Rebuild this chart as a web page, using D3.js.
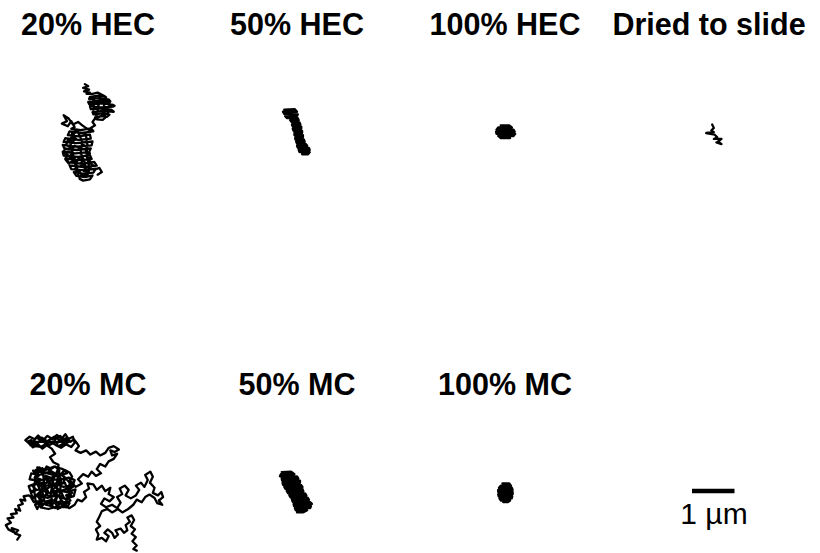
<!DOCTYPE html>
<html>
<head>
<meta charset="utf-8">
<script src="https://d3js.org/d3.v7.min.js"></script>
<style>
  body { margin: 0; background: #fff; }
  .title { font-family: "Liberation Sans", Arial, sans-serif; font-weight: bold; font-size: 30.5px; }
  .scale-label { font-family: "Liberation Sans", Arial, sans-serif; font-size: 30px; }
  .track { fill: none; stroke: #000; stroke-width: 2.3; stroke-linejoin: round; stroke-linecap: round; }
</style>
</head>
<body>
<div id="chart"></div>
<script>
// particle tracks, x/y in µm relative to the panel centre (y down)
var hec20 = [
  [0.02,-1.15],[0.10,-1.10],[-0.02,-1.06],[0.12,-1.02],[0.00,-0.98],[0.14,-0.95],[0.06,-0.92],
  [0.20,-0.92],[0.32,-0.95],[0.40,-0.91],
  [0.50,-0.86],[0.34,-0.88],[0.14,-0.85],
  [0.12,-0.80],[0.36,-0.82],[0.58,-0.79],
  [0.62,-0.74],[0.40,-0.76],[0.10,-0.73],
  [0.12,-0.68],[0.42,-0.70],[0.66,-0.67],[0.72,-0.64],
  [0.68,-0.62],[0.40,-0.60],[0.14,-0.63],
  [0.16,-0.56],[0.42,-0.58],[0.64,-0.55],
  [0.70,-0.50],[0.44,-0.52],[0.20,-0.49],
  [0.22,-0.44],[0.44,-0.46],[0.60,-0.43],
  [0.54,-0.38],[0.40,-0.40],[0.26,-0.37],
  [0.30,-0.32],[0.44,-0.31],
  [0.50,-0.36],[0.46,-0.60],[0.52,-0.84],[0.40,-0.90],[0.34,-0.64],[0.30,-0.40],[0.22,-0.52],
  [0.24,-0.78],[0.16,-0.70],[0.60,-0.72],[0.56,-0.46],[0.26,-0.34],
  [0.20,-0.26],[0.26,-0.18],[0.16,-0.12],[0.22,-0.04],[0.10,-0.08],
  [-0.04,-0.18],[-0.14,-0.26],[-0.26,-0.20],[-0.36,-0.34],[-0.48,-0.42],[-0.40,-0.28],[-0.52,-0.22],
  [-0.38,-0.16],[-0.30,-0.28],[-0.22,-0.14],
  [-0.30,-0.10],[-0.08,-0.07],[0.16,-0.11],
  [0.18,-0.03],[-0.06,0.00],[-0.34,-0.04],
  [-0.38,0.05],[-0.12,0.08],[0.14,0.04],
  [0.16,0.13],[-0.14,0.16],[-0.44,0.12],
  [-0.48,0.21],[-0.18,0.24],[0.20,0.20],
  [0.18,0.29],[-0.20,0.32],[-0.50,0.28],
  [-0.46,0.37],[-0.16,0.40],[0.16,0.36],
  [0.12,0.45],[-0.20,0.48],[-0.50,0.44],
  [-0.48,0.53],[-0.14,0.56],[0.14,0.52],
  [0.18,0.61],[-0.12,0.64],[-0.44,0.60],
  [-0.36,0.69],[-0.04,0.72],[0.24,0.68],
  [0.30,0.77],[-0.02,0.80],[-0.34,0.76],
  [-0.30,0.85],[0.00,0.88],[0.28,0.84],
  [0.22,0.93],[0.00,0.96],[-0.24,0.92],
  [-0.18,1.01],[0.02,1.04],[0.20,1.00],
  [0.14,1.09],[-0.02,1.12],[-0.10,1.08],
  [-0.14,0.96],[-0.18,0.74],[-0.26,0.50],[-0.32,0.24],[-0.28,0.00],
  [-0.16,-0.06],[-0.04,0.20],[-0.08,0.46],[0.02,0.70],[0.06,0.94],
  [0.12,0.80],[0.06,0.52],[0.08,0.28],[0.04,0.02],
  [-0.20,-0.02],[-0.28,0.08],[-0.18,0.14],[-0.30,0.22],[-0.38,0.16],[-0.42,0.28],[-0.32,0.34],
  [-0.40,0.44],[-0.28,0.46],[-0.34,0.56],[-0.22,0.60],[-0.28,0.70],[-0.16,0.66],[-0.10,0.56],
  [-0.02,0.62],[-0.08,0.74],[0.04,0.78],[0.00,0.90],[0.12,0.88],[0.08,1.00],[-0.04,1.02],
  [-0.10,0.92],[-0.22,0.86],[-0.16,0.78],[-0.26,0.66],[-0.36,0.72],[-0.44,0.62],[-0.38,0.52],
  [-0.48,0.46],[-0.44,0.36],[-0.30,0.40],[-0.22,0.30],[-0.10,0.36],[-0.02,0.28],[0.08,0.34],
  [0.04,0.44],[0.14,0.48],[0.06,0.56],[0.16,0.62],[0.10,0.70],[0.20,0.74],[0.14,0.84],
  [0.26,0.86],[0.36,0.82],[0.42,0.92],[0.32,0.98]
];
var hec50 = [
  [-0.30,-0.55],[-0.05,-0.56],
  [0.00,-0.50],[-0.33,-0.50],
  [-0.30,-0.45],[0.02,-0.44],
  [0.00,-0.40],[-0.28,-0.40],
  [-0.24,-0.35],[0.02,-0.35],
  [0.04,-0.30],[-0.16,-0.30],
  [-0.12,-0.25],[0.06,-0.25],
  [0.08,-0.20],[-0.12,-0.20],
  [-0.10,-0.15],[0.10,-0.15],
  [0.10,-0.10],[-0.10,-0.10],
  [-0.08,-0.05],[0.12,-0.05],
  [0.12,0.00],[-0.06,0.00],
  [-0.06,0.05],[0.14,0.05],
  [0.14,0.10],[-0.04,0.10],
  [-0.04,0.15],[0.16,0.15],
  [0.18,0.20],[-0.02,0.20],
  [0.00,0.25],[0.20,0.25],
  [0.24,0.30],[0.00,0.30],
  [0.02,0.35],[0.28,0.35],
  [0.30,0.40],[0.04,0.40],
  [0.06,0.45],[0.30,0.45],
  [0.26,0.50],[0.12,0.50]
];
var hec100 = [
  [-0.10,-0.18],[0.10,-0.18],
  [0.16,-0.13],[-0.16,-0.13],
  [-0.20,-0.08],[0.20,-0.08],
  [0.23,-0.03],[-0.21,-0.03],
  [-0.20,0.02],[0.24,0.02],
  [0.20,0.07],[-0.16,0.07],
  [-0.10,0.12],[0.12,0.12]
];
var dried = [
  [-0.02,-0.20],[0.02,-0.12],[-0.04,-0.06],[0.02,-0.02],[-0.16,0.00],[0.04,0.04],[0.10,0.10],
  [0.02,0.14],[0.20,0.14],[0.12,0.20],[0.20,0.26],[0.08,0.22]
];
var mc20 = [
  [-1.57,1.12],[-1.50,1.02],[-1.62,0.98],[-1.55,0.90],[-1.70,0.85],[-1.64,0.95],[-1.78,0.88],[-1.84,0.78],
  [-1.72,0.72],[-1.80,0.62],[-1.66,0.60],[-1.72,0.52],[-1.58,0.50],[-1.62,0.40],[-1.50,0.44],[-1.55,0.32],
  [-1.44,0.28],[-1.50,0.18],[-1.38,0.20],[-1.42,0.10],[-1.30,0.08],
  [-1.20,0.15],[-1.25,0.02],[-1.12,-0.05],[-1.22,-0.15],[-1.08,-0.20],[-0.98,-0.10],[-1.05,0.05],
  [-0.92,0.10],[-0.85,-0.02],[-0.95,-0.18],[-0.82,-0.25],[-0.90,-0.38],[-0.75,-0.32],[-0.70,-0.45],
  [-0.82,-0.52],[-0.68,-0.60],[-0.58,-0.50],[-0.65,-0.38],[-0.52,-0.30],[-0.60,-0.18],[-0.45,-0.22],
  [-0.40,-0.08],[-0.55,-0.02],[-0.48,0.12],[-0.62,0.08],[-0.70,0.20],[-0.58,0.28],[-0.68,0.38],
  [-0.80,0.30],[-0.75,0.18],[-0.88,0.22],[-0.98,0.32],[-1.05,0.22],[-1.15,0.30],[-1.10,0.40],
  [-1.00,0.18],[-1.12,0.08],[-1.02,-0.02],[-1.15,-0.30],[-1.05,-0.40],[-1.18,-0.48],[-1.05,-0.58],
  [-0.95,-0.48],[-0.88,-0.60],[-0.78,-0.55],[-0.86,-0.44],[-0.72,-0.40],[-0.80,-0.22],[-0.66,-0.12],
  [-0.76,-0.04],[-0.62,0.00],[-0.72,0.10],[-0.86,0.08],[-0.92,-0.04],[-0.78,-0.14],
  [-1.10,-0.58],[-0.90,-0.52],[-0.70,-0.60],[-0.50,-0.54],
  [-0.40,-0.44],[-0.62,-0.40],[-0.84,-0.46],[-1.06,-0.40],[-1.24,-0.44],
  [-1.28,-0.30],[-1.06,-0.26],[-0.84,-0.32],[-0.60,-0.28],[-0.36,-0.34],[-0.22,-0.28],
  [-0.26,-0.16],[-0.48,-0.12],[-0.70,-0.20],[-0.92,-0.14],[-1.14,-0.20],[-1.30,-0.14],
  [-1.26,-0.02],[-1.04,-0.06],[-0.82,0.02],[-0.60,-0.04],[-0.40,0.00],[-0.20,-0.06],
  [-0.24,0.10],[-0.44,0.16],[-0.66,0.08],[-0.86,0.14],[-1.08,0.08],[-1.24,0.14],
  [-1.18,0.24],[-0.96,0.20],[-0.76,0.28],[-0.54,0.22],[-0.34,0.26],
  [-0.40,0.36],[-0.62,0.34],[-0.84,0.40],[-1.02,0.36],
  [-1.14,0.20],[-1.18,-0.10],[-1.12,-0.40],[-0.98,-0.56],[-0.94,-0.24],[-0.98,0.06],[-0.90,0.30],
  [-0.74,0.34],[-0.78,0.02],[-0.72,-0.30],[-0.60,-0.56],[-0.54,-0.22],[-0.58,0.12],[-0.46,0.30],
  [-0.36,0.10],[-0.32,-0.20],[-0.50,-0.40],
  [-1.20,-0.50],[-1.10,-0.44],[-1.16,-0.34],[-1.02,-0.30],[-1.08,-0.18],[-0.96,-0.22],[-0.90,-0.10],
  [-1.00,-0.02],[-0.94,0.10],[-1.06,0.14],[-1.00,0.26],[-0.88,0.30],[-0.80,0.20],[-0.70,0.26],
  [-0.64,0.14],[-0.72,0.04],[-0.60,-0.06],[-0.70,-0.14],[-0.62,-0.26],[-0.50,-0.20],[-0.44,-0.32],
  [-0.54,-0.42],[-0.46,-0.52],[-0.34,-0.46],[-0.28,-0.36],[-0.36,-0.24],[-0.26,-0.12],[-0.38,-0.04],
  [-0.30,0.08],[-0.42,0.18],[-0.52,0.10],[-0.56,0.24],[-0.50,0.34],[-0.62,0.40],[-0.66,0.28],
  [-0.60,-0.64],
  [-0.72,-0.70],[-0.80,-0.82],[-0.68,-0.90],[-0.76,-1.02],
  [-0.88,-1.10],[-0.98,-1.02],[-1.08,-1.12],[-1.20,-1.05],[-1.30,-1.15],[-1.38,-1.22],[-1.28,-1.30],
  [-1.16,-1.24],[-1.08,-1.33],[-0.96,-1.22],[-0.86,-1.32],[-0.74,-1.24],[-0.64,-1.34],[-0.52,-1.26],
  [-0.44,-1.36],[-0.36,-1.24],[-0.48,-1.14],[-0.58,-1.22],[-0.66,-1.10],[-0.54,-1.04],[-0.42,-1.12],
  [-0.30,-1.06],[-0.22,-1.16],[-0.26,-1.30],[-0.50,-1.18],[-0.70,-1.30],[-0.92,-1.16],[-1.12,-1.28],
  [-1.26,-1.10],[-1.02,-1.06],[-0.80,-1.18],[-0.60,-1.08],[-0.36,-1.18],
  [-1.34,-1.18],[-1.24,-1.22],[-1.18,-1.12],[-1.06,-1.18],[-1.00,-1.28],[-0.90,-1.22],[-0.82,-1.10],
  [-0.72,-1.16],[-0.66,-1.26],[-0.56,-1.32],[-0.50,-1.22],[-0.40,-1.28],[-0.32,-1.18],[-0.24,-1.24],
  [-0.16,-1.14],[-0.12,-1.08],[-0.20,-0.98],
  [-0.08,-0.92],
  [0.05,-0.98],[0.15,-0.88],[0.28,-0.95],[0.38,-0.86],[0.50,-0.92],[0.58,-1.04],[0.70,-1.08],
  [0.82,-1.00],[0.72,-0.94],[0.62,-0.98],[0.66,-0.86],[0.78,-0.90],[0.70,-0.78],
  [0.58,-0.72],[0.50,-0.60],[0.38,-0.66],[0.30,-0.54],[0.40,-0.44],[0.28,-0.38],[0.18,-0.48],[0.10,-0.36],
  [-0.02,-0.42],[-0.14,-0.30],[-0.05,-0.20],[-0.20,-0.12],[-0.30,-0.25],[-0.38,-0.10],[-0.28,0.02],
  [-0.42,0.08],[-0.32,0.20],[-0.45,0.28],[-0.35,0.38],[-0.22,0.30],[-0.15,0.18],[-0.05,0.22],
  [0.05,0.12],[0.00,0.00],[0.12,-0.08],[0.08,-0.20],[0.22,-0.18],
  [0.30,-0.05],[0.42,-0.15],[0.50,-0.02],[0.62,-0.10],[0.58,0.05],[0.70,0.12],[0.60,0.22],[0.48,0.15],
  [0.40,0.28],[0.52,0.36],[0.66,0.30],[0.78,0.38],[0.86,0.25],[0.78,0.12],[0.90,0.05],[0.84,-0.08],
  [0.96,-0.15],[1.05,-0.05],[0.98,0.08],[1.10,0.15],
  [1.22,0.08],[1.30,-0.05],[1.22,-0.15],[1.34,-0.22],[1.42,-0.12],[1.50,-0.28],[1.44,-0.40],[1.56,-0.48],
  [1.62,-0.36],[1.55,-0.22],[1.66,-0.10],[1.62,0.02],[1.74,0.08],[1.82,0.00],[1.86,0.12],[1.76,0.20],
  [1.84,0.30],[1.72,0.26],[1.66,0.14],
  [1.54,0.06],[1.44,0.12],[1.36,0.24],[1.24,0.18],[1.16,0.30],
  [1.04,0.40],[0.90,0.48],[0.80,0.40],[0.66,0.48],[0.55,0.40],[0.42,0.45],[0.36,0.58],[0.30,0.70],
  [0.38,0.80],[0.28,0.88],[0.34,1.00],[0.30,1.12],[0.42,1.08],[0.52,1.16],[0.58,1.04],[0.48,0.96],
  [0.56,0.88],[0.66,0.96],[0.72,1.08],[0.80,1.00],[0.74,0.90],[0.86,0.86],[0.94,0.96],[1.02,0.90],
  [0.98,0.78],[1.08,0.70],[1.02,0.60],[1.12,0.55],[1.18,0.66],[1.10,0.80],[1.20,0.88],[1.12,0.98],
  [1.22,1.06],[1.14,1.16],[1.24,1.26],[1.16,1.34],[1.24,1.38]
];
var mc50 = [
  [-0.36,-0.47],[-0.14,-0.48],
  [-0.06,-0.42],[-0.38,-0.42],
  [-0.40,-0.37],[0.00,-0.37],
  [0.03,-0.32],[-0.36,-0.32],
  [-0.35,-0.27],[0.07,-0.27],
  [0.07,-0.22],[-0.34,-0.22],
  [-0.33,-0.17],[0.09,-0.17],
  [0.13,-0.12],[-0.30,-0.12],
  [-0.27,-0.07],[0.13,-0.07],
  [0.15,-0.02],[-0.24,-0.02],
  [-0.21,0.03],[0.19,0.03],
  [0.22,0.08],[-0.18,0.08],
  [-0.15,0.13],[0.25,0.13],
  [0.28,0.18],[-0.12,0.18],
  [-0.10,0.23],[0.30,0.23],
  [0.35,0.28],[-0.08,0.28],
  [-0.07,0.33],[0.33,0.33],
  [0.31,0.38],[-0.05,0.38],
  [-0.03,0.43],[0.24,0.43],
  [0.14,0.48],[0.00,0.48]
];
var mc100 = [
  [-0.06,-0.20],[0.10,-0.20],
  [0.14,-0.15],[-0.10,-0.15],
  [-0.14,-0.10],[0.16,-0.10],
  [0.18,-0.05],[-0.16,-0.05],
  [-0.16,0.00],[0.18,0.00],
  [0.18,0.05],[-0.16,0.05],
  [-0.15,0.10],[0.17,0.10],
  [0.16,0.15],[-0.13,0.15],
  [-0.10,0.20],[0.12,0.20],
  [0.06,0.24],[-0.04,0.24]
];

var titles = ["20% HEC", "50% HEC", "100% HEC", "Dried to slide", "20% MC", "50% MC", "100% MC"];
var tracks = [hec20, hec50, hec100, dried, mc20, mc50, mc100];
var scaleBarUm = 1;

var width = 820, height = 553;
var pxPerUm = 42.5;
var titleX = [88, 297, 505, 709];
var trackX = [84, 297, 505, 713];
var titleY = [35, 395];
var trackY = [133, 492];

var svg = d3.select("#chart").append("svg")
    .attr("width", width)
    .attr("height", height);

tracks.forEach(function(track, i) {
    var col = i % 4, row = Math.floor(i / 4);
    var x = d3.scaleLinear().domain([0, 1]).range([trackX[col], trackX[col] + pxPerUm]);
    var y = d3.scaleLinear().domain([0, 1]).range([trackY[row], trackY[row] + pxPerUm]);
    var line = d3.line().x(function(d) { return x(d[0]); }).y(function(d) { return y(d[1]); });

    svg.append("text")
        .attr("class", "title")
        .attr("x", titleX[col])
        .attr("y", titleY[row])
        .attr("text-anchor", "middle")
        .text(titles[i]);

    svg.append("path")
        .datum(track)
        .attr("class", "track")
        .attr("d", line);
});

// scale bar
var sb = d3.scaleLinear().domain([0, 1]).range([692, 692 + pxPerUm]);
svg.append("line")
    .attr("x1", sb(0)).attr("x2", sb(scaleBarUm))
    .attr("y1", 491).attr("y2", 491)
    .attr("stroke", "#000")
    .attr("stroke-width", 4.5);
svg.append("text")
    .attr("class", "scale-label")
    .attr("x", 714)
    .attr("y", 524)
    .attr("text-anchor", "middle")
    .text(scaleBarUm + " \u00b5m");
</script>
</body>
</html>
